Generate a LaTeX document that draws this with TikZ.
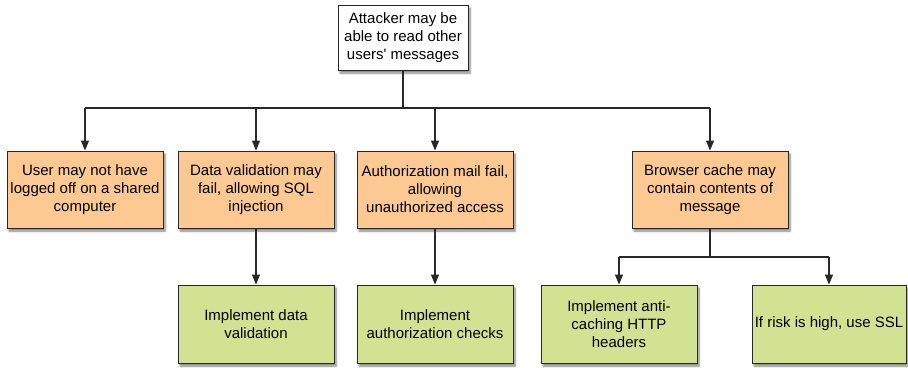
\documentclass[tikz,border=0pt]{standalone}
\usepackage{fontspec}
\setmainfont{Liberation Sans}
\usetikzlibrary{arrows.meta,shadows.blur}
\definecolor{boxorange}{RGB}{252,201,146}
\definecolor{boxgreen}{RGB}{211,225,146}
\definecolor{edge}{RGB}{40,40,40}
\tikzset{
  basebox/.style={draw=edge, line width=0.9pt, align=center, inner sep=2pt,
    font=\fontsize{15}{18}\selectfont,
    blur shadow={shadow xshift=2pt, shadow yshift=-3pt, shadow blur steps=6, shadow opacity=50}},
  topbox/.style={basebox, fill=white, minimum width=130pt, minimum height=65pt},
  riskbox/.style={basebox, fill=boxorange, minimum width=156pt, minimum height=77pt},
  fixbox/.style={basebox, fill=boxgreen, minimum width=156pt, minimum height=78pt},
  conn/.style={draw=edge, line width=1.2pt},
  arr/.style={conn, -{Triangle[width=8pt,length=10pt]}}
}
\begin{document}
\begin{tikzpicture}[x=1pt,y=-1pt]
\useasboundingbox (0,0) rectangle (908,367);
\node[topbox] (top) at (403,37.5) {Attacker may be\\able to read other\\users\textquotesingle{} messages};
\node[riskbox] (r1) at (85,189.5) {User may not have\\logged off on a shared\\computer};
\node[riskbox] (r2) at (256,189.5) {Data validation may\\fail, allowing SQL\\injection};
\node[riskbox] (r3) at (435,189.5) {Authorization mail fail,\\allowing\\unauthorized access};
\node[riskbox] (r4) at (710,189.5) {Browser cache may\\contain contents of\\message};
\node[fixbox] (f2) at (256,324) {Implement data\\validation};
\node[fixbox] (f3) at (435,324) {Implement\\authorization checks};
\node[fixbox] (f4a) at (619,324) {Implement anti-\\caching HTTP\\headers};
\node[fixbox, minimum width=154pt] (f4b) at (829,324) {If risk is high, use SSL};
\coordinate (bar) at (403,108);
\coordinate (br) at (710,257);
\draw[conn] (top.south) -- (bar);
\draw[conn] (r1.north |- bar) -- (r4.north |- bar);
\draw[arr] (r1.north |- bar) -- (r1.north);
\draw[arr] (r2.north |- bar) -- (r2.north);
\draw[arr] (r3.north |- bar) -- (r3.north);
\draw[arr] (r4.north |- bar) -- (r4.north);
\draw[arr] (r2.south) -- (f2.north);
\draw[arr] (r3.south) -- (f3.north);
\draw[conn] (r4.south) -- (br);
\draw[conn] (f4a.north |- br) -- (f4b.north |- br);
\draw[arr] (f4a.north |- br) -- (f4a.north);
\draw[arr] (f4b.north |- br) -- (f4b.north);
\end{tikzpicture}
\end{document}
